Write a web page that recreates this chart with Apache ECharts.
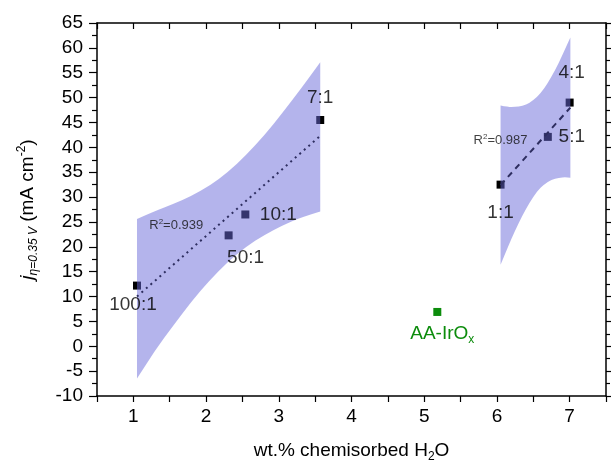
<!DOCTYPE html>
<html>
<head>
<meta charset="utf-8">
<script src="https://cdn.jsdelivr.net/npm/echarts@6/dist/echarts.min.js"></script>
<style>
  html, body { margin: 0; background: #fff; }
  #chart { width: 611px; height: 468px; }
</style>
</head>
<body>
<div id="chart"></div>
<script>
// samples (Ir:ratio) – wt.% chemisorbed water vs current density
const sampleNames = ['100:1', '50:1', '10:1', '7:1', '1:1', '5:1', '4:1']
const sampleX = [1.05, 2.31, 2.54, 3.57, 6.05, 6.70, 7.00]
const sampleY = [12.2, 22.3, 26.5, 45.5, 32.5, 42.1, 49.0]

// reference catalyst
const refX = [5.18]
const refY = [6.9]

// linear fits (end points)
const fitLeftX = [1.05, 3.57]
const fitLeftY = [10.0, 42.3]
const fitRightX = [6.05, 7.01]
const fitRightY = [32.4, 48.0]

// confidence bands
const bandLeftX = [1.05, 1.3, 1.55, 1.8, 2.05, 2.3, 2.55, 2.8, 3.05, 3.3, 3.57]
const bandLeftUpper = [25.6, 27.2, 28.6, 30.2, 32.3, 35.0, 38.4, 42.4, 46.9, 51.7, 57.1]
const bandLeftLower = [-6.5, -0.8, 4.2, 9.0, 13.3, 17.0, 20.0, 22.4, 24.3, 25.9, 27.1]

const bandRightX = [6.05, 6.15, 6.25, 6.35, 6.45, 6.55, 6.65, 6.75, 6.85, 6.95, 7.01]
const bandRightUpper = [48.4, 48.1, 48.1, 48.3, 48.9, 50.1, 51.8, 54.2, 56.9, 60.2, 62.1]
const bandRightLower = [16.4, 19.9, 23.3, 26.3, 28.9, 31.1, 32.6, 33.5, 33.9, 34.0, 33.9]

// R² annotations
const r2Values = ['0.939', '0.987']
const r2X = [1.59, 6.05]
const r2Y = [24.2, 41.4]

const FONT = 'Liberation Sans, Arial, sans-serif'
const BAND = 'rgba(105,105,217,0.5)'
const NAVY = '#2e2e60'
const GREEN = '#0c8c0c'

// label offset (px) for each sample, relative to its marker
const labelOffsets = [[-4, 19], [17, 22], [33, 0], [0, -22], [0, 28], [24, 0], [2, -30]]

// smooth outline through the pixel points (quadratic curves via midpoints)
const smoothPath = (pts, start) => {
  let d = (start ? 'M' : 'L') + pts[0][0] + ' ' + pts[0][1]
  for (let i = 1; i < pts.length - 1; i++) {
    const mx = (pts[i][0] + pts[i + 1][0]) / 2
    const my = (pts[i][1] + pts[i + 1][1]) / 2
    d += ' Q' + pts[i][0] + ' ' + pts[i][1] + ' ' + mx + ' ' + my
  }
  const last = pts[pts.length - 1]
  return d + ' L' + last[0] + ' ' + last[1]
}

const bandSeries = (xs, up, lo) => {
  return {
    type: 'custom',
    coordinateSystem: 'cartesian2d',
    silent: true,
    z: 5,
    data: xs.map((x, i) => [x, up[i], lo[i]]),
    encode: { x: 0, y: [1, 2] },
    renderItem: (params, api) => {
      if (params.dataIndex !== 0) return null
      const top = xs.map((x, i) => api.coord([x, up[i]]))
      const bottom = xs.map((x, i) => api.coord([x, lo[i]])).reverse()
      return {
        type: 'path',
        shape: { pathData: smoothPath(top, true) + ' ' + smoothPath(bottom, false) + ' Z' },
        style: { fill: BAND }
      }
    }
  }
}

const axisLine = { show: true, onZero: false, lineStyle: { color: '#000', width: 1.5 } }
const tickStyle = { color: '#000', width: 1.2 }

const option = {
  backgroundColor: '#fff',
  animation: false,
  textStyle: { fontFamily: FONT },
  grid: { left: 97, right: 5, top: 23, bottom: 66 },
  xAxis: [
    {
      type: 'value',
      position: 'bottom',
      min: 0.5,
      max: 7.5,
      interval: 0.5,
      axisLine,
      axisTick: { show: true, inside: false, length: 6, lineStyle: tickStyle },
      splitLine: { show: false },
      axisLabel: {
        color: '#000', fontSize: 19, fontFamily: FONT, margin: 11,
        formatter: (v) => (Number.isInteger(v) ? String(v) : '')
      },
      name: 'wt.% chemisorbed H{s|2}O',
      nameLocation: 'middle',
      nameGap: 43,
      nameTextStyle: {
        color: '#000', fontSize: 19, fontFamily: FONT, lineHeight: 24,
        rich: { s: { fontSize: 12, lineHeight: 12, verticalAlign: 'bottom', fontFamily: FONT } }
      }
    },
    {
      type: 'value',
      position: 'top',
      min: 0.5,
      max: 7.5,
      interval: 0.5,
      axisLine,
      axisTick: { show: true, inside: true, length: 6, lineStyle: tickStyle },
      splitLine: { show: false },
      axisLabel: { show: false }
    }
  ],
  yAxis: [
    {
      type: 'value',
      position: 'left',
      min: -10,
      max: 65,
      interval: 5,
      axisLine,
      axisTick: { show: true, inside: false, length: 8, lineStyle: tickStyle },
      minorTick: { show: true, splitNumber: 2, length: 5, lineStyle: tickStyle },
      splitLine: { show: false },
      axisLabel: { color: '#000', fontSize: 19, fontFamily: FONT, margin: 14 },
      name: '{j|j}{sub|η=0.35 V} (mA cm{sup|-2})',
      nameLocation: 'middle',
      nameRotate: 90,
      nameGap: 57,
      nameTextStyle: {
        color: '#000', fontSize: 19, fontFamily: FONT, lineHeight: 24,
        rich: {
          j: { fontSize: 19, fontStyle: 'italic', lineHeight: 24, fontFamily: FONT },
          sub: { fontSize: 12, fontStyle: 'italic', lineHeight: 12, verticalAlign: 'bottom', fontFamily: FONT },
          sup: { fontSize: 12, lineHeight: 12, verticalAlign: 'top', fontFamily: FONT }
        }
      }
    },
    {
      type: 'value',
      position: 'right',
      min: -10,
      max: 65,
      interval: 5,
      axisLine,
      axisTick: { show: true, inside: false, length: 6, lineStyle: tickStyle },
      minorTick: { show: true, splitNumber: 2, length: 4, lineStyle: tickStyle },
      splitLine: { show: false },
      axisLabel: { show: false }
    }
  ],
  series: [
    // markers sit under the translucent bands
    {
      type: 'scatter',
      symbol: 'rect',
      symbolSize: 8,
      z: 2,
      silent: true,
      itemStyle: { color: '#000', opacity: 1 },
      data: sampleX.map((x, i) => [x, sampleY[i]])
    },
    {
      type: 'scatter',
      symbol: 'rect',
      symbolSize: 8,
      z: 2,
      silent: true,
      itemStyle: { color: GREEN, opacity: 1 },
      data: refX.map((x, i) => [x, refY[i]]),
      label: {
        show: true,
        position: 'inside',
        offset: [5, 22],
        formatter: '{a|AA-IrO}{s|x}',
        rich: {
          a: { color: GREEN, fontSize: 19, lineHeight: 24, fontFamily: FONT },
          s: { color: GREEN, fontSize: 12, lineHeight: 12, verticalAlign: 'bottom', fontFamily: FONT }
        }
      }
    },
    bandSeries(bandLeftX, bandLeftUpper, bandLeftLower),
    bandSeries(bandRightX, bandRightUpper, bandRightLower),
    {
      type: 'line',
      z: 6,
      symbol: 'none',
      silent: true,
      data: fitLeftX.map((x, i) => [x, fitLeftY[i]]),
      lineStyle: { color: NAVY, width: 2, type: [2, 4] }
    },
    {
      type: 'line',
      z: 6,
      symbol: 'none',
      silent: true,
      data: fitRightX.map((x, i) => [x, fitRightY[i]]),
      lineStyle: { color: NAVY, width: 2, type: [6, 5] }
    },
    // sample labels on top of everything
    {
      type: 'scatter',
      symbolSize: 0,
      z: 8,
      silent: true,
      data: sampleNames.map((n, i) => ({
        name: n,
        value: [sampleX[i], sampleY[i]],
        label: { offset: labelOffsets[i] }
      })),
      label: {
        show: true,
        position: 'inside',
        formatter: (p) => p.name,
        color: '#000',
        fontSize: 19,
        fontFamily: FONT
      }
    },
    {
      type: 'scatter',
      symbolSize: 0,
      z: 8,
      silent: true,
      data: r2Values.map((v, i) => ({ name: v, value: [r2X[i], r2Y[i]] })),
      label: {
        show: true,
        position: 'inside',
        formatter: (p) => '{r|R}{sup|2}{r|=' + p.name + '}',
        rich: {
          r: { color: '#111', fontSize: 13, lineHeight: 16, fontFamily: FONT },
          sup: { color: '#111', fontSize: 8, lineHeight: 8, verticalAlign: 'top', fontFamily: FONT }
        }
      }
    }
  ]
}

const chart = echarts.init(document.getElementById('chart'))
chart.setOption(option)
</script>
</body>
</html>
